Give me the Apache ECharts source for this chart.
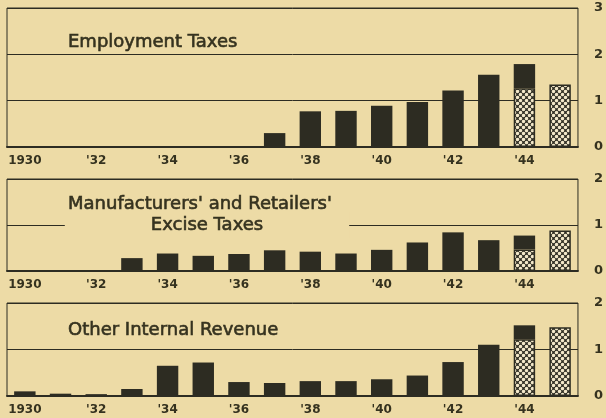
<!DOCTYPE html>
<html>
<head>
<meta charset="utf-8">
<script src="https://cdn.jsdelivr.net/npm/echarts@6/dist/echarts.min.js"></script>
<style>
html,body{margin:0;padding:0;background:#EDDBA6;}
#chart{width:606px;height:418px;}
</style>
</head>
<body>
<div id="chart"></div>
<script>
// ---- Data (billions of dollars) ----
var years = ['1930','1931','1932','1933','1934','1935','1936','1937','1938','1939','1940','1941','1942','1943','1944','1945'];
var tickLabels = ['1930','',"'32",'',"'34",'',"'36",'',"'38",'',"'40",'',"'42",'',"'44",''];

var panelTitles = ['Employment Taxes', "Manufacturers' and Retailers'", 'Excise Taxes', 'Other Internal Revenue'];

// total bar heights
var employmentTotal = [null,null,null,null,null,null,null,0.30,0.77,0.78,0.89,0.97,1.22,1.56,1.79,1.35];
// hatched (lower) portion
var employmentHatched = [null,null,null,null,null,null,null,null,null,null,null,null,null,null,1.27,1.35];

var exciseTotal = [null,null,null,0.28,0.38,0.33,0.37,0.45,0.42,0.38,0.46,0.62,0.84,0.67,0.77,0.88];
var exciseHatched = [null,null,null,null,null,null,null,null,null,null,null,null,null,null,0.47,0.88];

var otherTotal = [0.10,0.05,0.04,0.15,0.65,0.72,0.30,0.28,0.32,0.32,0.36,0.44,0.73,1.10,1.52,1.48];
var otherHatched = [null,null,null,null,null,null,null,null,null,null,null,null,null,null,1.22,1.48];

var yMax = [3, 2, 2];

// ---- Styling ----
var BG = '#EDDBA6';
var INK = '#2d2c22';
var TXT = '#35321f';
var FONT = '"DejaVu Sans", sans-serif';

function makePattern() {
  var c = document.createElement('canvas');
  c.width = 6; c.height = 6;
  var g = c.getContext('2d');
  g.fillStyle = INK;
  g.fillRect(0, 0, 6, 6);
  g.fillStyle = '#F3E8CA';
  [[1.5,1.5],[4.5,4.5],[1.5,7.5],[7.5,1.5],[-1.5,4.5],[4.5,-1.5]].forEach(function(p){
    g.beginPath(); g.arc(p[0], p[1], 1.75, 0, Math.PI*2); g.fill();
  });
  return c;
}
var hatch = { image: makePattern(), repeat: 'repeat' };

var grids = [
  {left: 7, right: 25, top: 8, height: 139},
  {left: 7, right: 25, top: 179, height: 92},
  {left: 7, right: 25, top: 303, height: 93}
];

var totals = [employmentTotal, exciseTotal, otherTotal];
var hatched = [employmentHatched, exciseHatched, otherHatched];

var titleFont = '18px ' + FONT;
function titleStyle(text, align, extra) {
  return Object.assign({text: text, fill: TXT, stroke: TXT, lineWidth: 0.6, font: titleFont,
    verticalAlign: 'middle', align: align}, extra || {});
}

var option = {
  backgroundColor: BG,
  animation: false,
  grid: grids.map(function(g){
    return Object.assign({show: true, borderColor: INK, borderWidth: 1, backgroundColor: 'transparent'}, g);
  }),
  xAxis: grids.map(function(g, i){
    return {
      type: 'category', gridIndex: i, data: years, boundaryGap: true,
      axisLine: {show: true, lineStyle: {color: INK, width: 2}},
      axisTick: {show: false},
      splitLine: {show: false},
      axisLabel: {
        interval: 0, margin: 8, color: TXT, fontFamily: FONT, fontSize: 12, fontWeight: 'bold',
        formatter: function(v, idx){ return tickLabels[idx]; }
      }
    };
  }),
  yAxis: grids.map(function(g, i){
    return {
      type: 'value', gridIndex: i, position: 'right', min: 0, max: yMax[i], interval: 1,
      axisLine: {show: false}, axisTick: {show: false},
      splitLine: {show: true, lineStyle: {color: INK, width: 1}},
      axisLabel: {margin: 16, color: TXT, fontFamily: FONT, fontSize: 13, fontWeight: 'bold', align: 'left'}
    };
  }),
  series: [],
  graphic: [
    {type: 'text', x: 68, y: 42, z: 100, style: titleStyle(panelTitles[0], 'left')},
    {type: 'text', x: 68, y: 204, z: 100, style: titleStyle(panelTitles[1], 'left')},
    {type: 'text', x: 207, y: 225, z: 100, style: titleStyle(panelTitles[2], 'center', {backgroundColor: BG, padding: [4, 86]})},
    {type: 'text', x: 68, y: 330, z: 100, style: titleStyle(panelTitles[3], 'left')}
  ]
};

totals.forEach(function(tot, i){
  var h = hatched[i];
  var hatchData = tot.map(function(v, k){ return h[k] == null ? null : h[k]; });
  var solidData = tot.map(function(v, k){
    if (v == null) return null;
    var r = v - (h[k] == null ? 0 : h[k]);
    return r > 0 ? +r.toFixed(3) : null;
  });
  option.series.push({
    type: 'bar', xAxisIndex: i, yAxisIndex: i, stack: 's' + i, barWidth: '60%', z: 3,
    data: hatchData,
    itemStyle: {color: hatch, borderColor: INK, borderWidth: 1.5}
  });
  option.series.push({
    type: 'bar', xAxisIndex: i, yAxisIndex: i, stack: 's' + i, barWidth: '60%', z: 3,
    data: solidData,
    itemStyle: {color: INK}
  });
});

var chart = echarts.init(document.getElementById('chart'), null, {renderer: 'canvas'});
chart.setOption(option);
</script>
</body>
</html>
